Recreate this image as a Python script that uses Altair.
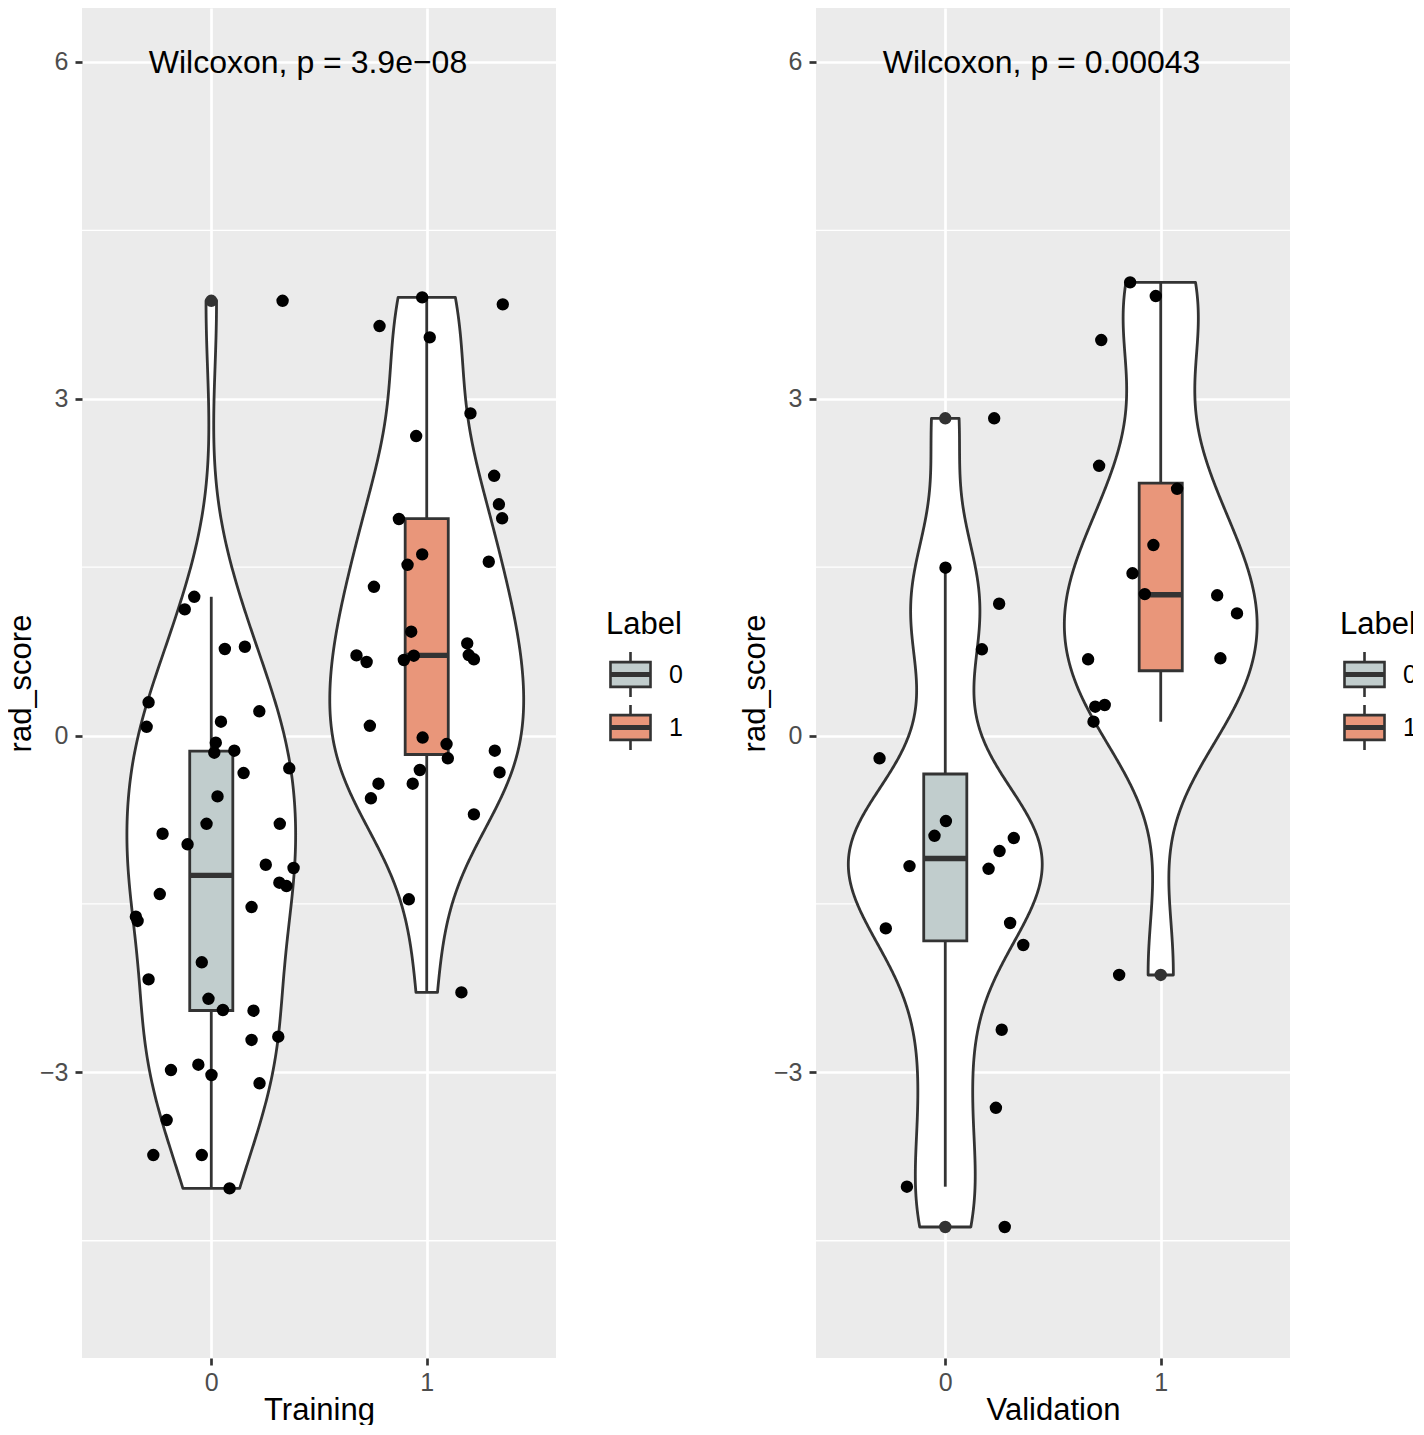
import altair as alt
import numpy as np
import pandas as pd

FONT = "Liberation Sans"

labels = ["0", "1"]
box_colors = ["#C1CDCD", "#E9967A"]
panel_titles = ["Training", "Validation"]
p_texts = ["Wilcoxon, p = 3.9e\u221208", "Wilcoxon, p = 0.00043"]
p_label_x = -0.29
p_label_y = 6
y_breaks = [-3, 0, 3, 6]
y_minor = [-4.5, -1.5, 1.5, 4.5]

# ---- Training, Label 0: jitter offset (category units) and rad_score ----
train0_jit = [0.331, -0.079, -0.123, 0.063, 0.156, -0.291, -0.300, 0.223, 0.045, 0.021,
              0.014, 0.107, 0.362, 0.150, 0.029, -0.022, 0.318, -0.226, -0.110, 0.253,
              0.382, 0.316, 0.349, -0.239, 0.187, -0.350, -0.342, -0.044, -0.291, -0.013,
              0.054, 0.196, 0.311, 0.187, -0.187, -0.060, 0.001, 0.224, -0.207, -0.269,
              -0.044, 0.085]
train0_y = [3.873, 1.236, 1.124, 0.771, 0.791, 0.296, 0.078, 0.216, 0.123, -0.064,
            -0.153, -0.135, -0.292, -0.334, -0.542, -0.786, -0.786, -0.875, -0.969, -1.151,
            -1.180, -1.311, -1.341, -1.412, -1.528, -1.614, -1.652, -2.020, -2.172, -2.345,
            -2.445, -2.451, -2.683, -2.712, -2.980, -2.932, -3.024, -3.098, -3.425, -3.737,
            -3.737, -4.034]

# ---- Training, Label 1 ----
train1_jit = [-0.021, 0.353, -0.219, 0.014, 0.203, -0.049, 0.313, 0.335, 0.350, -0.129,
              -0.021, -0.089, 0.288, -0.245, -0.072, -0.326, -0.279, -0.106, -0.060, 0.188,
              0.195, 0.219, -0.264, -0.019, 0.092, 0.316, 0.098, 0.338, -0.032, -0.224,
              -0.065, -0.259, 0.219, -0.083, 0.161]
train1_y = [3.903, 3.841, 3.648, 3.547, 2.870, 2.668, 2.314, 2.060, 1.935, 1.929,
            1.614, 1.521, 1.548, 1.325, 0.925, 0.714, 0.655, 0.673, 0.711, 0.821,
            0.717, 0.679, 0.087, -0.018, -0.076, -0.135, -0.203, -0.328, -0.307, -0.429,
            -0.429, -0.559, -0.702, -1.459, -2.288]

# ---- Validation, Label 0 ----
valid0_jit = [0.227, 0.001, 0.250, 0.170, -0.305, 0.003, -0.050, 0.318, 0.252, -0.166,
              0.201, -0.276, 0.301, 0.362, 0.262, 0.235, -0.178, 0.276]
valid0_y = [2.826, 1.495, 1.174, 0.768, -0.203, -0.762, -0.893, -0.913, -1.029, -1.163,
            -1.187, -1.718, -1.670, -1.866, -2.621, -3.316, -4.019, -4.378]

# ---- Validation, Label 1 ----
valid1_jit = [-0.142, -0.023, -0.276, -0.286, 0.076, -0.034, -0.131, -0.074, 0.262, 0.354,
              -0.337, 0.277, -0.260, -0.304, -0.312, -0.193]
valid1_y = [4.037, 3.915, 3.523, 2.403, 2.198, 1.697, 1.445, 1.260, 1.249, 1.088,
            0.679, 0.688, 0.272, 0.257, 0.123, -2.133]

panel_data = [
    [(train0_jit, train0_y), (train1_jit, train1_y)],
    [(valid0_jit, valid0_y), (valid1_jit, valid1_y)],
]

LINE = "#333333"

legend_path = ("M-0.87,-0.54L0.87,-0.54L0.87,0.54L-0.87,0.54Z"
               "M0,-0.54L0,-0.98M0,0.54L0,0.98"
               "M-0.87,-0.05L0.87,-0.05M-0.87,0.05L0.87,0.05")


def build_frames(groups):
    pts, vio, box, rules, outl = [], [], [], [], []
    dens = []
    for g, (jit, ys) in enumerate(groups):
        v = np.array(ys, dtype=float)
        n = len(v)
        for j, y in zip(jit, ys):
            pts.append(dict(label=labels[g], x=g + j, y=y))
        q1, med, q3 = np.percentile(v, [25, 50, 75])
        iqr = q3 - q1
        lo_f, hi_f = q1 - 1.5 * iqr, q3 + 1.5 * iqr
        lo = v[v >= lo_f].min()
        hi = v[v <= hi_f].max()
        box.append(dict(label=labels[g], xl=g - 0.1, xr=g + 0.1, q1=q1, q3=q3, med=med))
        rules.append(dict(label=labels[g], x=g, a=lo, b=q1))
        rules.append(dict(label=labels[g], x=g, a=q3, b=hi))
        for o in v[(v < lo_f) | (v > hi_f)]:
            outl.append(dict(label=labels[g], x=g, y=o))
        bw = 0.9 * min(v.std(ddof=1), iqr / 1.34) * n ** -0.2
        grid = np.linspace(v.min(), v.max(), 512)
        d = np.exp(-0.5 * ((grid[:, None] - v[None, :]) / bw) ** 2).sum(1) / (n * bw * np.sqrt(2 * np.pi))
        dens.append((g, grid, d))
    m = max(d.max() for _, _, d in dens)
    for g, grid, d in dens:
        hw = 0.45 * d / m
        for yy, w in zip(grid, hw):
            vio.append(dict(label=labels[g], y=yy, xl=g - w, xr=g + w))
    return (pd.DataFrame(pts), pd.DataFrame(vio), pd.DataFrame(box),
            pd.DataFrame(rules), pd.DataFrame(outl))


Y_DOMAIN = [-5.545, 6.481]
X_DOMAIN = [-0.6, 1.6]


def make_panel(i):
    pts, vio, box, rules, outl = build_frames(panel_data[i])
    xs = alt.Scale(domain=X_DOMAIN, nice=False, zero=False)
    ys = alt.Scale(domain=Y_DOMAIN, nice=False, zero=False)
    x_axis = alt.Axis(values=[0, 1], format="d", title=panel_titles[i], grid=True)
    y_axis = alt.Axis(values=y_breaks, title="rad_score", grid=True,
                      labelExpr="replace(datum.label, '-', '\u2212')")

    minor = alt.Chart(pd.DataFrame({"m": y_minor})).mark_rule(
        color="white", strokeWidth=1.4
    ).encode(y=alt.Y("m:Q", scale=ys, axis=y_axis))

    violin = alt.Chart(vio).mark_area(
        orient="horizontal", fill="white", stroke=LINE, strokeWidth=2.8, strokeJoin="round"
    ).encode(
        y=alt.Y("y:Q", scale=ys, axis=y_axis),
        x=alt.X("xl:Q", scale=xs, axis=x_axis),
        x2="xr:Q",
        detail="label:N",
    )

    whisk = alt.Chart(rules).mark_rule(color=LINE, strokeWidth=2.8).encode(
        x=alt.X("x:Q", scale=xs, axis=x_axis),
        y=alt.Y("a:Q", scale=ys, axis=y_axis),
        y2="b:Q",
    )

    rect = alt.Chart(box).mark_rect(stroke=LINE, strokeWidth=2.8).encode(
        x=alt.X("xl:Q", scale=xs, axis=x_axis),
        x2="xr:Q",
        y=alt.Y("q1:Q", scale=ys, axis=y_axis),
        y2="q3:Q",
        fill=alt.Fill(
            "label:N",
            scale=alt.Scale(domain=labels, range=box_colors),
            legend=alt.Legend(
                title="Label", orient="none", legendX=524, legendY=602,
                symbolType=legend_path, symbolSize=2116,
                symbolStrokeColor=LINE, symbolStrokeWidth=2.6,
                labelOffset=14, rowPadding=-4, titlePadding=9,
            ),
        ),
    )

    median = alt.Chart(box).mark_rule(color=LINE, strokeWidth=5.4).encode(
        x=alt.X("xl:Q", scale=xs, axis=x_axis),
        x2="xr:Q",
        y=alt.Y("med:Q", scale=ys, axis=y_axis),
    )

    outliers = alt.Chart(outl).mark_circle(size=154, color=LINE, opacity=1).encode(
        x=alt.X("x:Q", scale=xs, axis=x_axis),
        y=alt.Y("y:Q", scale=ys, axis=y_axis),
    )

    points = alt.Chart(pts).mark_circle(size=154, color="black", opacity=1).encode(
        x=alt.X("x:Q", scale=xs, axis=x_axis),
        y=alt.Y("y:Q", scale=ys, axis=y_axis),
    )

    txt = alt.Chart(pd.DataFrame({"x": [p_label_x], "y": [p_label_y], "t": [p_texts[i]]})).mark_text(
        align="left", baseline="middle", fontSize=32, font=FONT, color="black", dy=1
    ).encode(
        x=alt.X("x:Q", scale=xs, axis=x_axis),
        y=alt.Y("y:Q", scale=ys, axis=y_axis),
        text="t:N",
    )

    return alt.layer(minor, violin, whisk, rect, median, outliers, points, txt).properties(
        width=474, height=1350
    )


chart = alt.hconcat(make_panel(0), make_panel(1), spacing=56).resolve_scale(
    x="independent", y="independent", fill="independent"
).resolve_legend(fill="independent").properties(
    padding={"top": 0, "bottom": 0, "left": -3, "right": -4}, background="white"
).configure_view(
    fill="#EBEBEB", stroke=None
).configure_axis(
    domain=False,
    tickColor=LINE, tickWidth=2.7, tickSize=7,
    labelColor="#4D4D4D", labelFontSize=25, labelFont=FONT,
    titleColor="black", titleFontSize=31, titleFont=FONT, titleFontWeight="normal",
    gridColor="white", gridWidth=2.7, gridOpacity=1,
).configure_axisX(
    labelPadding=5, titlePadding=0,
).configure_axisY(
    labelPadding=7, titlePadding=2,
).configure_legend(
    padding=0, titleFont=FONT, titleFontSize=31, titleFontWeight="normal", titleColor="black",
    labelFont=FONT, labelFontSize=25, labelColor="black",
)

chart.save("out.html", embed_options={"renderer": "svg", "actions": False})
